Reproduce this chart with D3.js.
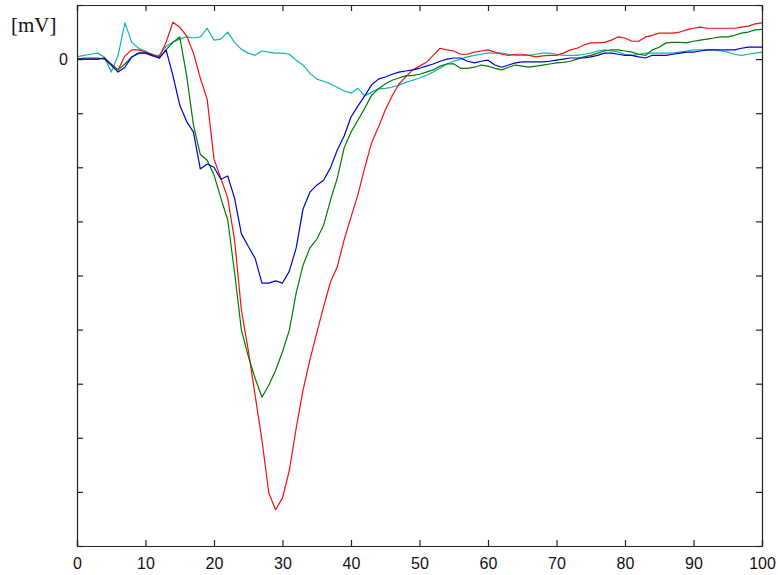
<!DOCTYPE html>
<html lang="en">
<head>
<meta charset="UTF-8">
<title>ECG traces</title>
<style>
  body { margin: 0; background: #fff; }
  .tick text { font-family: "Liberation Sans", Arial, sans-serif; }
</style>
</head>
<body>
<script src="https://d3js.org/d3.v7.min.js"></script>
<script>
  // samples 0..100, values in y-tick units (0 = baseline)
  let blue = [0,0,0,0,0.02,-0.11,-0.24,-0.15,0.04,0.11,
    0.11,0.07,0.02,0.17,-0.30,-0.85,-1.15,-1.35,-2.03,-1.94,
    -2.00,-2.22,-2.16,-2.57,-3.23,-3.46,-3.68,-4.14,-4.14,-4.10,
    -4.14,-3.92,-3.49,-2.77,-2.46,-2.33,-2.24,-2.01,-1.68,-1.42,
    -1.07,-0.87,-0.68,-0.48,-0.37,-0.33,-0.28,-0.24,-0.22,-0.20,
    -0.17,-0.13,-0.09,-0.04,0,0.02,0.02,-0.04,-0.07,-0.04,
    -0.02,-0.11,-0.15,-0.11,-0.07,-0.05,-0.05,-0.05,-0.05,-0.04,
    -0.02,0,0.02,0.02,0.02,0.04,0.07,0.11,0.11,0.09,
    0.07,0.07,0.04,0.02,0.07,0.07,0.07,0.09,0.11,0.13,
    0.13,0.15,0.17,0.17,0.17,0.17,0.17,0.20,0.22,0.22,0.22]

  let green = [0,0.02,0.02,0.02,0,-0.11,-0.20,-0.09,0.04,0.11,
    0.11,0.06,0.02,0.17,0.31,0.41,-0.30,-1.22,-1.76,-1.87,
    -2.14,-2.57,-2.97,-3.94,-5.01,-5.49,-5.90,-6.25,-6.03,-5.75,
    -5.41,-5.01,-4.32,-3.81,-3.49,-3.33,-3.07,-2.61,-2.20,-1.64,
    -1.35,-1.13,-0.91,-0.67,-0.55,-0.46,-0.39,-0.35,-0.31,-0.30,
    -0.28,-0.24,-0.20,-0.13,-0.09,-0.09,-0.17,-0.17,-0.15,-0.11,
    -0.13,-0.17,-0.20,-0.15,-0.11,-0.13,-0.15,-0.13,-0.11,-0.09,
    -0.07,-0.06,-0.04,0,0.04,0.07,0.11,0.15,0.17,0.17,
    0.15,0.13,0.09,0.07,0.17,0.22,0.30,0.31,0.31,0.30,
    0.33,0.35,0.37,0.39,0.41,0.41,0.44,0.48,0.50,0.54,0.55]

  let red = [0,0,0,0,0.02,-0.09,-0.20,0.06,0.17,0.17,
    0.13,0.09,0.04,0.31,0.68,0.59,0.43,0.11,-0.35,-0.74,
    -1.85,-2.20,-2.57,-3.34,-4.64,-5.38,-6.21,-7.04,-8.02,-8.33,
    -8.11,-7.60,-6.82,-6.12,-5.56,-5.06,-4.58,-4.12,-3.84,-3.34,
    -2.92,-2.51,-2.01,-1.55,-1.26,-0.94,-0.68,-0.46,-0.33,-0.20,
    -0.13,-0.06,0.07,0.20,0.17,0.15,0.09,0.09,0.13,0.15,
    0.17,0.13,0.09,0.07,0.09,0.09,0.07,0.04,0.06,0.07,
    0.07,0.11,0.17,0.20,0.26,0.30,0.30,0.31,0.35,0.41,
    0.39,0.33,0.33,0.41,0.44,0.48,0.48,0.48,0.50,0.54,
    0.57,0.59,0.57,0.57,0.57,0.57,0.57,0.59,0.61,0.65,0.67]

  let cyan = [0.04,0.07,0.09,0.11,0.04,-0.24,0.07,0.67,0.31,0.20,
    0.15,0.07,0.07,0.24,0.31,0.37,0.41,0.39,0.41,0.57,
    0.35,0.37,0.50,0.31,0.18,0.11,0.07,0.15,0.13,0.11,
    0.11,0.09,-0.02,-0.11,-0.26,-0.37,-0.41,-0.46,-0.52,-0.59,
    -0.63,-0.54,-0.68,-0.61,-0.55,-0.54,-0.52,-0.48,-0.43,-0.39,
    -0.35,-0.30,-0.24,-0.17,-0.09,-0.04,0,0.04,0.07,0.09,
    0.11,0.11,0.11,0.09,0.07,0.07,0.07,0.09,0.11,0.11,
    0.09,0.07,0.07,0.07,0.09,0.11,0.15,0.17,0.15,0.13,
    0.09,0.07,0.09,0.11,0.11,0.11,0.11,0.11,0.13,0.15,
    0.17,0.17,0.17,0.17,0.15,0.13,0.09,0.07,0.09,0.11,0.13]

  let series = [
    { name: "cyan", values: cyan, color: "#10b4b4" },
    { name: "red", values: red, color: "#ee1111" },
    { name: "green", values: green, color: "#007a00" },
    { name: "blue", values: blue, color: "#0000d0" }
  ]

  let xTicks = [0, 10, 20, 30, 40, 50, 60, 70, 80, 90, 100]
  let yTicks = [-9, -8, -7, -6, -5, -4, -3, -2, -1, 0, 1]
  let yLabelled = [0]

  let width = 778
  let height = 575
  let margin = { top: 5, right: 16, bottom: 29, left: 77 }
  let innerW = width - margin.left - margin.right
  let innerH = height - margin.top - margin.bottom

  let svg = d3.select("body").append("svg")
              .attr("width", width)
              .attr("height", height)

  let g = svg.append("g")
             .attr("transform", "translate(" + margin.left + "," + margin.top + ")")

  let x = d3.scaleLinear().domain([0, 100]).range([0, innerW])
  let y = d3.scaleLinear().domain([-9, 1]).range([innerH, 0])

  let line = d3.line()
               .x(function(d, i) { return x(i) })
               .y(function(d) { return y(d) })

  let clip = g.append("clipPath").attr("id", "clip")
  clip.append("rect").attr("width", innerW).attr("height", innerH)

  let plot = g.append("g").attr("clip-path", "url(#clip)")
  series.forEach(function(s) {
    plot.append("path")
        .datum(s.values)
        .attr("fill", "none")
        .attr("stroke", s.color)
        .attr("stroke-width", 1.2)
        .attr("stroke-linejoin", "round")
        .attr("d", line)
  })

  // axes with inward ticks, mirrored on top and right
  let tickLen = 6
  let bottomAxis = d3.axisBottom(x).tickValues(xTicks).tickSize(-tickLen).tickPadding(12)
  let topAxis = d3.axisTop(x).tickValues(xTicks).tickSize(-tickLen).tickFormat("")
  let leftAxis = d3.axisLeft(y).tickValues(yTicks).tickSize(-tickLen).tickPadding(9)
                   .tickFormat(function(d) { return yLabelled.indexOf(d) >= 0 ? d : "" })
  let rightAxis = d3.axisRight(y).tickValues(yTicks).tickSize(-tickLen).tickFormat("")

  function style(sel) {
    sel.selectAll("path.domain").attr("stroke", "#222").attr("stroke-width", 1.2)
    sel.selectAll(".tick line").attr("stroke", "#222").attr("stroke-width", 1.2)
    sel.selectAll(".tick text").attr("fill", "#111").style("font-size", "16px")
  }

  g.append("g").attr("transform", "translate(0," + innerH + ")").call(bottomAxis).call(style)
  g.append("g").call(topAxis).call(style)
  g.append("g").call(leftAxis).call(style)
  g.append("g").attr("transform", "translate(" + innerW + ",0)").call(rightAxis).call(style)

  svg.append("text")
     .attr("x", 11)
     .attr("y", 32)
     .attr("font-family", "'Liberation Serif', 'Times New Roman', serif")
     .attr("font-size", 21)
     .attr("fill", "#111")
     .text("[mV]")
</script>
</body>
</html>
